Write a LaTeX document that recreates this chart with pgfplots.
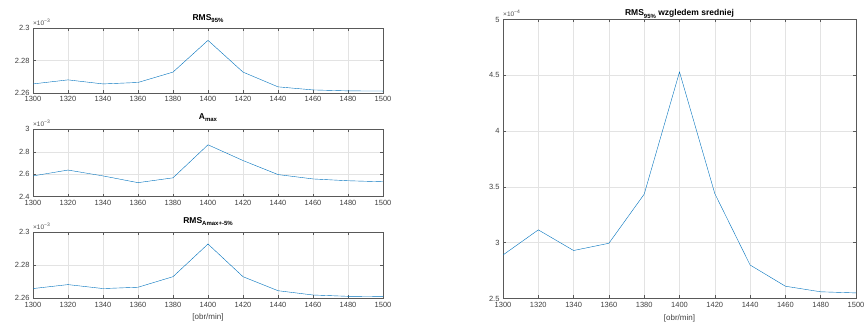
\documentclass[border=0pt]{standalone}
\usepackage{pgfplots}
\pgfplotsset{compat=1.18}
\usepackage{fontspec}
\setmainfont{Liberation Sans}
\definecolor{mblue}{rgb}{0,0.447,0.741}
\newcommand{\subs}[1]{\raisebox{-2.5pt}{\fontsize{6}{6}\selectfont #1}}
\newcommand{\sclab}[1]{\fontsize{6.5}{7}\selectfont ×10\raisebox{3pt}{\fontsize{5}{5}\selectfont #1}}
\pgfplotsset{
 every axis title/.style={at={(0.5,1)}, anchor=base, font=\fontsize{8.5}{10}\selectfont\bfseries},
 mstyle/.style={
  scale only axis, anchor=south west, clip mode=individual,
  xmin=1300, xmax=1500, xtick={1300,1320,...,1500},
  grid=major, major grid style={draw=black!11, line width=0.5pt},
  axis line style={draw=black!65, line width=0.6pt},
  tick align=inside, tick pos=both, major tick length=3pt,
  tick style={draw=black!65, line width=0.5pt},
  /pgf/number format/assume math mode=true,
  /pgf/number format/1000 sep={},
  ticklabel style={font=\fontsize{7.5}{9}\selectfont, text=black!75},
  xlabel style={font=\fontsize{8}{10}\selectfont, text=black!75},
  cycle list={{mblue, line width=0.6pt, mark=none}},
 }
}
\pgfplotstableread{
x y
1300 2.2656
1320 2.2681
1340 2.2656
1360 2.2665
1380 2.2729
1400 2.2925
1420 2.2729
1440 2.2638
1460 2.2619
1480 2.2613
1500 2.2612
}\rmsdata
\pgfplotstableread{
x y
1300 2.585
1320 2.637
1340 2.585
1360 2.525
1380 2.568
1400 2.862
1420 2.722
1440 2.597
1460 2.558
1480 2.542
1500 2.533
}\amaxdata
\pgfplotstableread{
x y
1300 2.2659
1320 2.2683
1340 2.2659
1360 2.2667
1380 2.2731
1400 2.2929
1420 2.2731
1440 2.2646
1460 2.2620
1480 2.2612
1500 2.2610
}\rmsadata
\pgfplotstableread{
x y
1300 2.89
1320 3.115
1340 2.93
1360 2.995
1380 3.435
1400 4.53
1420 3.44
1440 2.80
1460 2.61
1480 2.56
1500 2.55
}\srdata
\begin{document}
\begin{tikzpicture}
\useasboundingbox (0,0) rectangle (865pt,324pt);
% plot 1
\begin{axis}[mstyle, at={(33pt,231pt)}, width=350pt, height=64.8pt,
  ymin=2.26, ymax=2.30, ytick={2.26,2.28,2.30},
  title={RMS\subs{95\%}}, title style={yshift=8pt}]
\addplot table[x=x,y=y]{\rmsdata};
\node[anchor=base west, inner sep=0pt, text=black!70] at (rel axis cs:0,1) [yshift=3pt] {\sclab{−3}};
\end{axis}
% plot 2
\begin{axis}[mstyle, at={(33pt,127.3pt)}, width=350pt, height=67.4pt,
  ymin=2.4, ymax=3.0, ytick={2.4,2.6,2.8,3.0},
  title={A\subs{max}}, title style={yshift=10pt}]
\addplot table[x=x,y=y]{\amaxdata};
\node[anchor=base west, inner sep=0pt, text=black!70] at (rel axis cs:0,1) [yshift=3pt] {\sclab{−3}};
\end{axis}
% plot 3
\begin{axis}[mstyle, at={(33pt,25.7pt)}, width=350pt, height=66pt,
  ymin=2.26, ymax=2.30, ytick={2.26,2.28,2.30},
  title={RMS\subs{Amax+-5\%}}, title style={yshift=9pt},
  xlabel={[obr/min]}]
\addplot table[x=x,y=y]{\rmsadata};
\node[anchor=base west, inner sep=0pt, text=black!70] at (rel axis cs:0,1) [yshift=3pt] {\sclab{−3}};
\end{axis}
% right plot
\begin{axis}[mstyle, at={(503pt,25.5pt)}, width=353pt, height=279pt,
  ymin=2.5, ymax=5, ytick={2.5,3,...,5},
  title={RMS\subs{95\%} wzgledem sredniej}, title style={yshift=3.5pt},
  xlabel={[obr/min]}]
\addplot table[x=x,y=y]{\srdata};
\node[anchor=base west, inner sep=0pt, text=black!70] at (rel axis cs:0,1) [yshift=3pt] {\sclab{−4}};
\end{axis}
\end{tikzpicture}
\end{document}
